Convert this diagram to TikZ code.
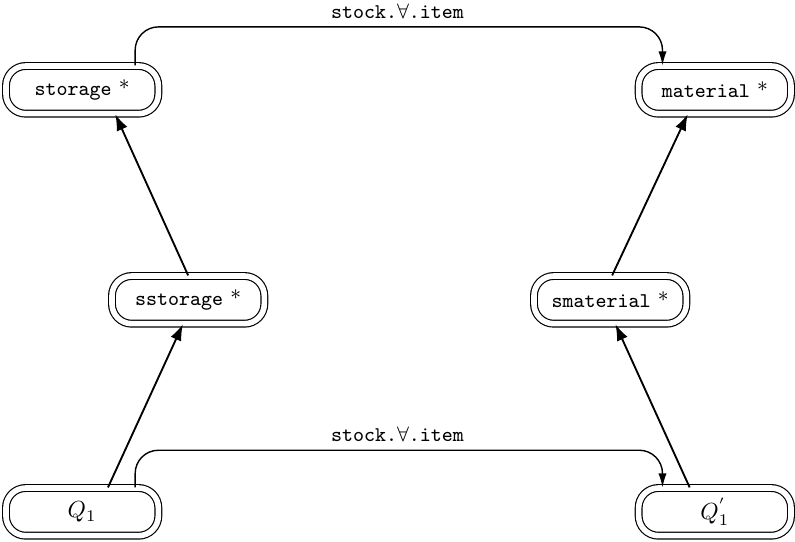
\documentclass[tikz,border=0pt]{standalone}
\usetikzlibrary{arrows.meta}

\begin{document}
\begin{tikzpicture}[
	class/.style = {draw, double, double distance = 2.4 pt, line width = 0.5 pt, rounded corners = 8.5 pt,
		minimum width = 2.3 cm, minimum height = 0.72 cm, font = \small},
	link/.style = {thick, -{Latex[length=7pt, width=5pt]}},
	path/.style = {semithick, -{Latex[length=6pt, width=3.5pt]}, rounded corners = 10 pt}
]

	\useasboundingbox (0, 0) rectangle (12, 8.166);

	% Classes

	\node [class] (storage) at (1.24, 6.81) {\texttt{storage} \textrm{*}};
	\node [class] (material) at (10.79, 6.81) {\texttt{material} \textrm{*}};
	\node [class] (sstorage) at (2.84, 3.64) {\texttt{sstorage} \textrm{*}};
	\node [class] (smaterial) at (9.21, 3.64) {\texttt{smaterial} \textrm{*}};

	% Queries

	\node [class, font = \normalsize] (qone) at (1.24, 0.44) {$Q_1$};
	\node [class, font = \normalsize] (qonep) at (10.79, 0.44) {$Q^{'}_1$};

	% Isa links

	\draw [link] ([xshift = 0.39 cm] qone.north) -- ([xshift = -0.08 cm] sstorage.south);
	\draw [link] ([xshift = 0 cm] sstorage.north) -- ([xshift = 0.5 cm] storage.south);
	\draw [link] ([xshift = -0.38 cm] qonep.north) -- ([xshift = 0.08 cm] smaterial.south);
	\draw [link] ([xshift = 0.03 cm] smaterial.north) -- ([xshift = -0.41 cm] material.south);

	% Paths

	\draw [path] ([xshift = 0.8 cm] storage.north) |- (6, 7.76) node [above] {\small\texttt{stock.}$\forall$\texttt{.item}}
		-| ([xshift = -0.79 cm] material.north);
	\draw [path] ([xshift = 0.8 cm] qone.north) |- (6, 1.37) node [above] {\small\texttt{stock.}$\forall$\texttt{.item}}
		-| ([xshift = -0.79 cm] qonep.north);

\end{tikzpicture}
\end{document}
